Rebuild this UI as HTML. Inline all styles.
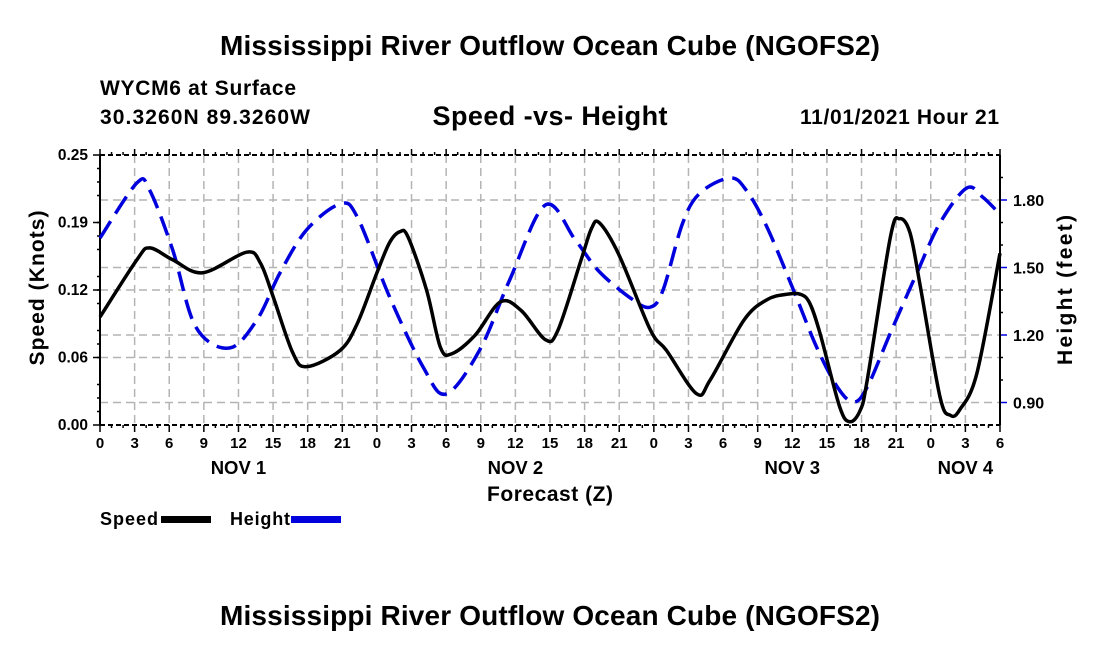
<!DOCTYPE html>
<html><head><meta charset="utf-8"><style>
body{margin:0;background:#fff;font-family:"Liberation Sans",sans-serif;}
svg text{font-family:"Liberation Sans",sans-serif;font-weight:bold;fill:#000;}
</style></head><body>
<svg id="chart" width="1100" height="650" viewBox="0 0 1100 650">
<text x="550" y="55" font-size="28" text-anchor="middle" textLength="660">Mississippi River Outflow Ocean Cube (NGOFS2)</text>
<text x="100" y="95" font-size="21" textLength="196">WYCM6 at Surface</text>
<text x="100" y="124" font-size="21" textLength="210">30.3260N  89.3260W</text>
<text x="550" y="125" font-size="27" text-anchor="middle" textLength="235">Speed -vs- Height</text>
<text x="999" y="124" font-size="21" text-anchor="end" textLength="199">11/01/2021 Hour 21</text>
<g id="grid"></g>
<g id="axes"></g>
<g id="series"></g>
<text transform="translate(44,288) rotate(-90)" font-size="21" text-anchor="middle" textLength="155">Speed (Knots)</text>
<text transform="translate(1072,290) rotate(-90)" font-size="21" text-anchor="middle" textLength="150">Height (feet)</text>
<text x="550" y="501" font-size="21" text-anchor="middle" textLength="126">Forecast (Z)</text>
<g>
<text x="100" y="525" font-size="18" textLength="58">Speed</text>
<rect x="161" y="516" width="50" height="7" fill="#000"/>
<text x="230" y="525" font-size="18" textLength="60">Height</text>
<rect x="291" y="516" width="50" height="7" fill="#0000dd"/>
</g>
<text x="550" y="625" font-size="28" text-anchor="middle" textLength="660">Mississippi River Outflow Ocean Cube (NGOFS2)</text>
</svg>
<script>
const speedHours=[0,3.2,4.3,6.3,8.9,12.7,13.9,15,16.7,17.9,20.8,22.3,24,25.1,26,26.7,28.3,29.5,30.5,32.5,34.7,36.5,38.6,39.7,41.7,42.6,43.3,45,47.7,49.1,51.7,52.9,55.8,57.8,59.5,60.7,61.5,62.4,64.1,65,65.9,66.5,68.5,69.3,70.2,71.1,72.8,73.7,74.5,76,78];
const speedValues=[0.100,0.153,0.164,0.153,0.141,0.160,0.150,0.119,0.067,0.054,0.069,0.094,0.141,0.169,0.179,0.174,0.125,0.072,0.066,0.083,0.114,0.106,0.079,0.088,0.153,0.182,0.187,0.157,0.088,0.069,0.029,0.042,0.097,0.116,0.121,0.121,0.113,0.085,0.017,0.003,0.014,0.042,0.174,0.191,0.178,0.128,0.026,0.009,0.014,0.048,0.159];
const heightHours=[0,3.2,4.3,6.3,8.3,11.2,13.6,15.6,17.9,20.8,22.3,25.1,28,30,32.9,35.5,38.6,41.2,43.3,46.2,47.7,48.8,50.5,52,54.6,56,57.8,60.1,62.1,63.9,65.3,66.5,68.5,70.8,72.8,75.1,76.5,77.9];
const heightValues=[1.631,1.876,1.844,1.578,1.236,1.142,1.267,1.476,1.667,1.782,1.724,1.369,1.058,0.938,1.133,1.444,1.778,1.622,1.480,1.356,1.324,1.400,1.698,1.831,1.898,1.844,1.680,1.400,1.147,0.969,0.902,0.969,1.209,1.476,1.698,1.853,1.813,1.742];
const speedTicks=[0,0.0625,0.125,0.1875,0.25];
const speedTickLabels=["0.00","0.06","0.12","0.19","0.25"];
const heightTicks=[0.9,1.2,1.5,1.8];
const heightTickLabels=["0.90","1.20","1.50","1.80"];
const hourTickLabels=["0","3","6","9","12","15","18","21","0","3","6","9","12","15","18","21","0","3","6","9","12","15","18","21","0","3","6"];
const dayLabels=["NOV 1","NOV 2","NOV 3","NOV 4"];
const dayLabelHours=[12,36,60,75];

const X0=100,X1=1000,Y0=425,Y1=155,HMAX=78;
const xs=h=>X0+(h/HMAX)*(X1-X0);
const ySpeed=v=>Y0-(v/0.25)*(Y0-Y1);
const yHeight=f=>Y0-((f-0.8)/1.2)*(Y0-Y1);
const NS="http://www.w3.org/2000/svg";
function mk(tag,attrs,parent){const e=document.createElementNS(NS,tag);for(const k in attrs)e.setAttribute(k,attrs[k]);parent.appendChild(e);return e;}
const grid=document.getElementById('grid'),axes=document.getElementById('axes'),series=document.getElementById('series');

hourTickLabels.forEach((lab,i)=>{
  const x=xs(i*3);
  if(i>0&&i<hourTickLabels.length-1){
    const g=mk('line',{x1:x,x2:x,y1:Y1,y2:Y0,stroke:'#b4b4b4','stroke-width':1.5,'stroke-dasharray':'8,5'},grid);
    
    
  }
  const t=mk('line',{x1:x,x2:x,y1:Y0,y2:Y0+7,stroke:'#000','stroke-width':1.5},axes);
  
  
  const tt=mk('line',{x1:x,x2:x,y1:Y1,y2:Y1-6,stroke:'#000','stroke-width':1.5},axes);
  
  
  const l=mk('text',{x:x,y:Y0+23,'font-size':15,'text-anchor':'middle'},axes);
  l.textContent=lab;
  
  
});
for(let h=1;h<HMAX;h++){if(h%3===0)continue;const x=xs(h);
  const m=mk('line',{x1:x,x2:x,y1:Y0,y2:Y0+3,stroke:'#000','stroke-width':1.5},axes);
  
  
  const m2=mk('line',{x1:x,x2:x,y1:Y1,y2:Y1-3,stroke:'#000','stroke-width':1.5},axes);
  
  
}
dayLabels.forEach((d,i)=>{
  const l=mk('text',{x:xs(dayLabelHours[i]),y:474,'font-size':18.5,'text-anchor':'middle'},axes);
  l.textContent=d;
  
  
});
speedTicks.forEach((v,i)=>{
  const y=ySpeed(v);
  if(i>0&&i<speedTicks.length-1&&i!==3){
    const g=mk('line',{x1:X0,x2:X1,y1:y,y2:y,stroke:'#b4b4b4','stroke-width':1.5,'stroke-dasharray':'8,5'},grid);
    
    
  }
  const t=mk('line',{x1:X0-7,x2:X0,y1:y,y2:y,stroke:'#000','stroke-width':1.5},axes);
  
  
  const l=mk('text',{x:X0-12,y:y+5,'font-size':15.5,'text-anchor':'end'},axes);
  l.textContent=speedTickLabels[i];
  
  
});
for(let k=1;k<20;k++){if(k%4===0)continue;const y=ySpeed(k*0.0125);
  const m=mk('line',{x1:X0-3,x2:X0,y1:y,y2:y,stroke:'#000','stroke-width':1.5},axes);
  
  
}
heightTicks.forEach((f,i)=>{
  const y=yHeight(f);
  const g=mk('line',{x1:X0,x2:X1,y1:y,y2:y,stroke:'#b4b4b4','stroke-width':1.5,'stroke-dasharray':'8,5'},grid);
  
  
  const t=mk('line',{x1:X1,x2:X1+7,y1:y,y2:y,stroke:'#0000dd','stroke-width':1.5},axes);
  
  
  const l=mk('text',{x:X1+13,y:y+6,'font-size':16},axes);
  l.textContent=heightTickLabels[i];
  
  
});
for(let k=9;k<20;k++){if(k%3===0)continue;const y=yHeight(k*0.1);
  const m=mk('line',{x1:X1,x2:X1+3,y1:y,y2:y,stroke:'#000','stroke-width':1.5},axes);
  
  
}
const fr=mk('line',{x1:X0,x2:X0,y1:Y1,y2:Y0,stroke:'#000','stroke-width':2},axes);


const fr2=mk('line',{x1:X1,x2:X1,y1:Y1,y2:Y0,stroke:'#000','stroke-width':2},axes);


const fr3=mk('line',{x1:X0,x2:X1,y1:Y0,y2:Y0,stroke:'#000','stroke-width':2,'stroke-dasharray':'5,3'},axes);


const fr4=mk('line',{x1:X0,x2:X1,y1:Y1,y2:Y1,stroke:'#000','stroke-width':2,'stroke-dasharray':'5,3'},axes);



function smooth(pts){
  let d='M'+pts[0][0]+','+pts[0][1];
  for(let i=0;i<pts.length-1;i++){
    const p0=pts[Math.max(0,i-1)],p1=pts[i],p2=pts[i+1],p3=pts[Math.min(pts.length-1,i+2)];
    const c1x=p1[0]+(p2[0]-p0[0])/6,c1y=p1[1]+(p2[1]-p0[1])/6;
    const c2x=p2[0]-(p3[0]-p1[0])/6,c2y=p2[1]-(p3[1]-p1[1])/6;
    d+=' C'+c1x+','+c1y+' '+c2x+','+c2y+' '+p2[0]+','+p2[1];
  }
  return d;
}
const hp=mk('path',{d:smooth(heightHours.map((h,i)=>[xs(h),yHeight(heightValues[i])])),fill:'none',stroke:'#0000dd','stroke-width':3.5,'stroke-dasharray':'20,9'},series);


const sp=mk('path',{d:smooth(speedHours.map((h,i)=>[xs(h),ySpeed(speedValues[i])])),fill:'none',stroke:'#000','stroke-width':3.5,'stroke-linejoin':'round'},series);


</script>
</body></html>
